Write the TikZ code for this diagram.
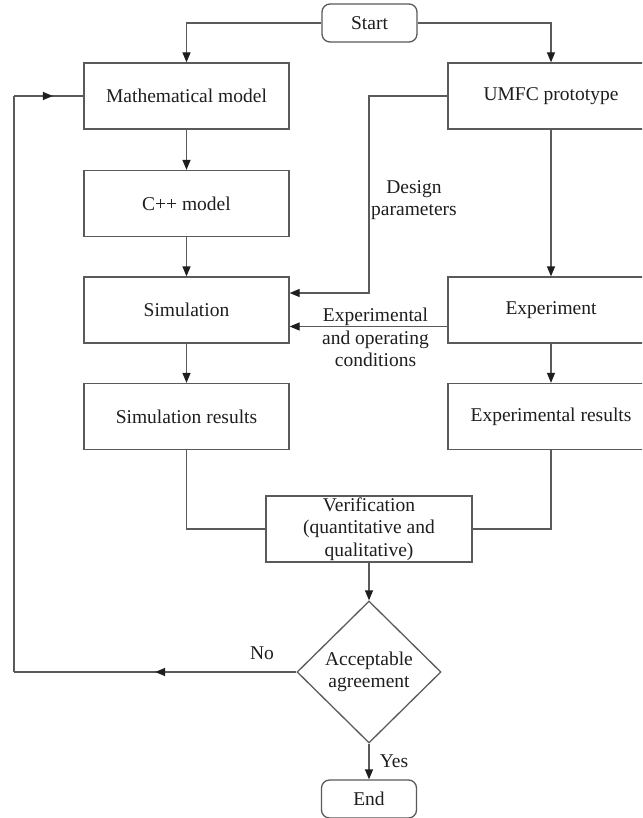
\documentclass[tikz,border=0pt]{standalone}
\usepackage{fontspec}
\setmainfont{Liberation Serif}
\usetikzlibrary{arrows.meta,shapes.geometric,decorations.markings}
\definecolor{linecol}{RGB}{90,90,90}
\definecolor{tipcol}{RGB}{30,30,30}
\definecolor{txtcol}{RGB}{30,30,30}
\begin{document}
\begin{tikzpicture}[x=1pt,y=-1pt,
 every node/.style={font=\fontsize{19.5}{22.5}\selectfont, text=txtcol},
 procbox/.style={draw=linecol, line width=1.3pt, minimum width=205pt, minimum height=66pt, inner sep=0pt, align=center},
 termbox/.style={draw=linecol, line width=1.3pt, rounded corners=8pt, minimum width=95pt, minimum height=38pt, inner sep=0pt},
 decbox/.style={draw=linecol, line width=1.3pt, diamond, minimum width=144pt, minimum height=142pt, inner sep=0pt, align=center},
 conn/.style={color=linecol, line width=1.3pt},
 arr/.style={conn, -{Triangle[length=10pt,width=8pt,color=tipcol]}},
 lbl/.style={align=center, inner sep=0pt},
 midarr/.style={postaction={decorate}, decoration={markings, mark=at position #1 with {\arrow{Triangle[length=10pt,width=8pt,color=tipcol]}}}}
]
\clip (0,0) rectangle (642,818);
\fill[white] (0,0) rectangle (642,818);

\node[termbox] (start) at (369.5,23) {Start};
\node[procbox] (math) at (186.5,96) {Mathematical model};
\node[procbox, minimum width=206pt] (umfc) at (551,96) {UMFC prototype};
\node[procbox] (cpp) at (186.5,203.5) {C++ model};
\node[procbox] (sim) at (186.5,310) {Simulation};
\node[procbox, minimum width=206pt] (exp) at (551,310) {Experiment};
\node[procbox] (simres) at (186.5,416.5) {Simulation results};
\node[procbox, minimum width=206pt] (expres) at (551,416.5) {Experimental results};
\node[procbox, minimum width=206pt] (verif) at (369,529) {Verification\\(quantitative and\\qualitative)};
\node[decbox] (dec) at (369,672) {Acceptable\\agreement};
\node[termbox] (end) at (369,799) {End};

\coordinate (dp1) at (369,96);
\coordinate (dp2) at (369,293);
\coordinate (fb1) at (14,672);
\coordinate (fb2) at (14,96);

\draw[arr] (start.west) -| (math.north);
\draw[arr] (start.east) -| (umfc.north);
\draw[arr] (math.south) -- (cpp.north);
\draw[arr] (cpp.south) -- (sim.north);
\draw[arr] (sim.south) -- (simres.north);
\draw[arr] (umfc.south) -- (exp.north);
\draw[arr] (exp.south) -- (expres.north);
\draw[arr] (umfc.west) -- (dp1) -- (dp2) -- (sim.east |- dp2);
\draw[arr] ([yshift=-16.5pt]exp.west) -- ([yshift=-16.5pt]sim.east);
\draw[conn] (simres.south) |- (verif.west);
\draw[conn] (expres.south) |- (verif.east);
\draw[arr] (verif.south) -- (dec.north);
\draw[arr] (dec.south) -- (end.north);
\draw[conn, midarr=0.5] (dec.west) -- (fb1);
\draw[conn] (fb1) -- (fb2);
\draw[conn, midarr=0.56] (fb2) -- (math.west);

\node[lbl] (dp) at (414,200) {Design\\parameters};
\node[lbl] (ec) at (375.5,337.5) {Experimental\\and operating\\conditions};
\node[lbl] (no) at (262,653) {No};
\node[lbl] (yes) at (394,761) {Yes};
\end{tikzpicture}
\end{document}
